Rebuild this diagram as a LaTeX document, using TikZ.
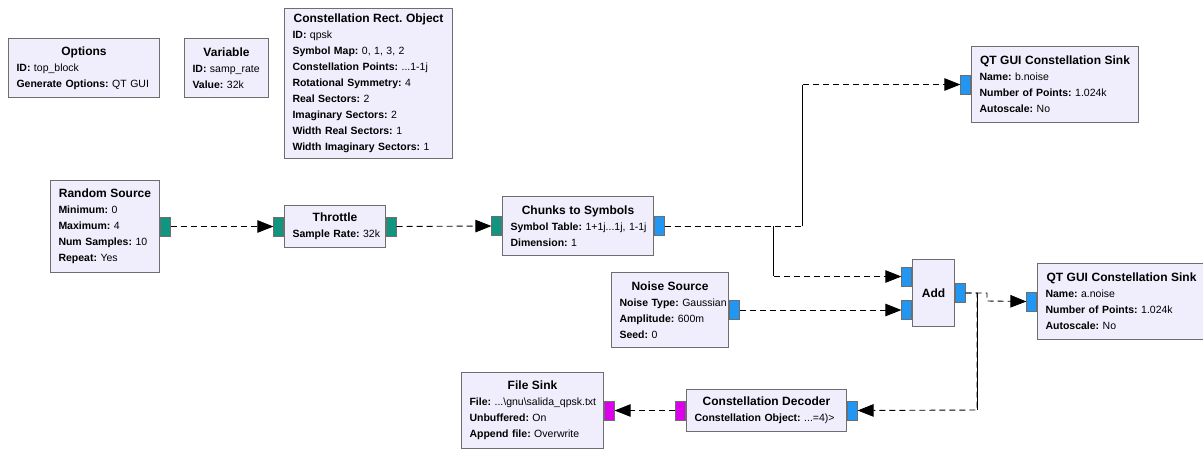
\documentclass[tikz,border=0pt]{standalone}
\usepackage{fontspec}
\setmainfont{Liberation Sans}
\usetikzlibrary{arrows.meta}
\frenchspacing

\definecolor{blockfill}{RGB}{240,238,252}
\definecolor{blockline}{RGB}{110,110,110}
\definecolor{portteal}{RGB}{16,150,128}
\definecolor{portblue}{RGB}{33,150,243}
\definecolor{portmag}{RGB}{220,0,235}

\newcommand{\blocktitle}[1]{\makebox[\hsize]{\fontsize{12}{16}\selectfont\bfseries #1}}
\newcommand{\prm}[2]{\makebox[\hsize][l]{\textbf{#1:} #2}}

\tikzset{
	block/.style={draw=blockline, fill=blockfill, line width=1pt, anchor=north west,
		inner xsep=8pt, inner ysep=0pt, align=left, font=\fontsize{10.5}{16}\selectfont},
	port/.style={draw=blockline, fill=#1, line width=0.6pt, minimum width=10pt,
		minimum height=19pt, inner sep=0pt},
	link/.style={dash pattern=on 6pt off 4pt, line width=0.9pt,
		-{Triangle[length=16pt,width=12.5pt]}},
}

\begin{document}
\begin{tikzpicture}[x=1pt, y=-1pt]
	\useasboundingbox (0,0) rectangle (1203,448);

	% blocks without ports
	\node[block, text width=135pt, minimum height=59pt] (options) at (8,38)
		{\blocktitle{Options}\\ \prm{ID}{top\_block}\\ \prm{Generate Options}{QT GUI}};
	\node[block, text width=68pt, minimum height=59pt] (variable) at (184,38)
		{\blocktitle{Variable}\\ \prm{ID}{samp\_rate}\\ \prm{Value}{32k}};
	\node[block, text width=152pt, minimum height=150pt] (cro) at (284,8)
		{\blocktitle{Constellation Rect. Object}\\ \prm{ID}{qpsk}\\
		 \prm{Symbol Map}{0, 1, 3, 2}\\ \prm{Constellation Points}{...1-1j}\\
		 \prm{Rotational Symmetry}{4}\\ \prm{Real Sectors}{2}\\
		 \prm{Imaginary Sectors}{2}\\ \prm{Width Real Sectors}{1}\\
		 \prm{Width Imaginary Sectors}{1}};

	% signal chain
	\node[block, text width=93pt, minimum height=92pt] (rsrc) at (50,180)
		{\blocktitle{Random Source}\\ \prm{Minimum}{0}\\ \prm{Maximum}{4}\\
		 \prm{Num Samples}{10}\\ \prm{Repeat}{Yes}};
	\node[block, text width=85pt, minimum height=42pt] (throttle) at (284,205)
		{\blocktitle{Throttle}\\ \prm{Sample Rate}{32k}};
	\node[block, text width=135pt, minimum height=59pt] (chunks) at (502,196)
		{\blocktitle{Chunks to Symbols}\\ \prm{Symbol Table}{1+1j...1j, 1-1j}\\
		 \prm{Dimension}{1}};
	\node[block, text width=101pt, minimum height=75pt] (noise) at (611,272)
		{\blocktitle{Noise Source}\\ \prm{Noise Type}{Gaussian}\\
		 \prm{Amplitude}{600m}\\ \prm{Seed}{0}};
	\node[block, text width=26pt, minimum height=67pt] (add) at (912,259)
		{\blocktitle{Add}};
	\node[block, text width=151pt, minimum height=76pt] (qtb) at (971,46)
		{\blocktitle{QT GUI Constellation Sink}\\ \prm{Name}{b.noise}\\
		 \prm{Number of Points}{1.024k}\\ \prm{Autoscale}{No}};
	\node[block, text width=152pt, minimum height=76pt] (qta) at (1037,263)
		{\blocktitle{QT GUI Constellation Sink}\\ \prm{Name}{a.noise}\\
		 \prm{Number of Points}{1.024k}\\ \prm{Autoscale}{No}};
	\node[block, text width=144pt, minimum height=42pt] (decoder) at (686,389)
		{\blocktitle{Constellation Decoder}\\ \prm{Constellation Object}{...=4)>}};
	\node[block, text width=126pt, minimum height=76pt] (fsink) at (461,372)
		{\blocktitle{File Sink}\\ \prm{File}{...\textbackslash gnu\textbackslash salida\_qpsk.txt}\\
		 \prm{Unbuffered}{On}\\ \prm{Append file}{Overwrite}};

	% ports
	\node[port=portteal, anchor=west] (rsrc-out) at (rsrc.east) {};
	\node[port=portteal, anchor=east] (thr-in) at (throttle.west) {};
	\node[port=portteal, anchor=west] (thr-out) at (throttle.east) {};
	\node[port=portteal, anchor=east] (chk-in) at (chunks.west) {};
	\node[port=portblue, anchor=west] (chk-out) at (chunks.east) {};
	\node[port=portblue, anchor=west] (noise-out) at (noise.east) {};
	\node[port=portblue, anchor=east] (add-in1) at ([yshift=16.5pt]add.west) {};
	\node[port=portblue, anchor=east] (add-in2) at ([yshift=-17pt]add.west) {};
	\node[port=portblue, anchor=west] (add-out) at (add.east) {};
	\node[port=portblue, anchor=east] (qtb-in) at (qtb.west) {};
	\node[port=portblue, anchor=east] (qta-in) at (qta.west) {};
	\node[port=portblue, anchor=west] (dec-in) at (decoder.east) {};
	\node[port=portmag, anchor=east] (dec-out) at (decoder.west) {};
	\node[port=portmag, anchor=west] (fs-in) at (fsink.east) {};

	% bend points
	\coordinate (tapb) at (802,83);
	\coordinate (tapa) at (773,276);
	\coordinate (tapd) at (977,410);
	\coordinate (step) at (987,301);

	% connections
	\draw[link] (rsrc-out.east) -- (thr-in.west);
	\draw[link] (thr-out.east) -- (chk-in.west);
	\draw[link] (chk-out.east) -- (chk-out.east -| tapb) |- (qtb-in.west);
	\draw[link] (chk-out.east) -- (chk-out.east -| tapa) |- (add-in1.west);
	\draw[link] (noise-out.east) -- (add-in2.west);
	\draw[link] (add-out.east) -| (step) -- (qta-in.west);
	\draw[link] (add-out.east) -| (tapd) -- (dec-in.east);
	\draw[link] (dec-out.west) -- (fs-in.east);

	% vertical runs are solid
	\draw[line width=0.9pt] (chk-out.east -| tapb) -- (tapb |- qtb-in.west);
	\draw[line width=0.9pt] (chk-out.east -| tapa) -- (tapa);
	\draw[line width=0.9pt] (add-out.east -| tapd) -- (tapd);
\end{tikzpicture}
\end{document}
